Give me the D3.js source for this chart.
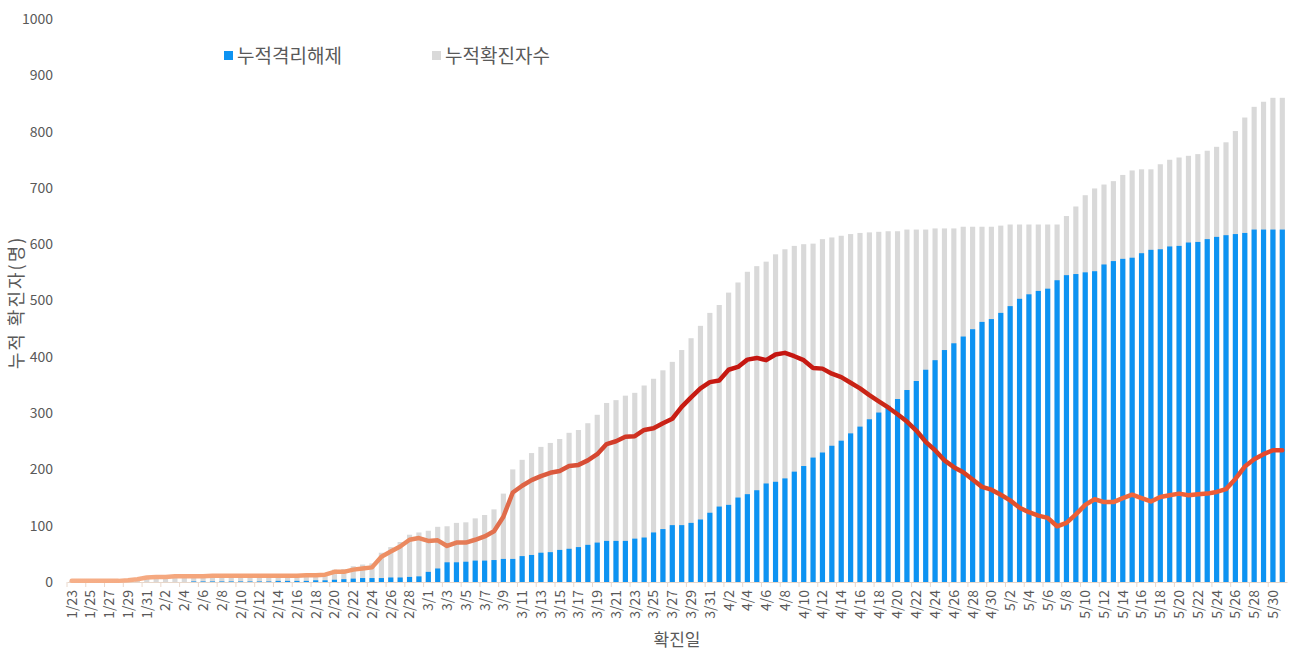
<!DOCTYPE html>
<html>
<head>
<meta charset="utf-8">
<script src="https://cdn.jsdelivr.net/npm/d3@7/dist/d3.min.js"></script>
<style>
  html, body { margin: 0; padding: 0; background: #ffffff; }
  svg { display: block; }
  text { font-family: "Noto Sans CJK KR", "Noto Sans", sans-serif; }
</style>
</head>
<body>
<svg id="chart" width="1293" height="652"></svg>
<script>
// ---- data ----
const startDate = "2020-01-23";
const dayCount = 130; // 1/23 .. 5/31

const confirmed = [
  2,2,2,2,2,2,3,5,8,
  9,9,10,10,11,11,12,12,12,12,
  12,12,12,13,13,13,14,15,16,22,
  23,28,31,33,52,62,71,84,88,
  91,98,99,105,106,113,119,129,157,200,
  217,229,240,247,254,265,270,282,297,318,
  323,331,336,349,361,376,391,412,433,455,478,
  492,514,532,551,561,569,582,591,597,600,
  601,609,612,615,618,620,621,622,623,623,
  626,626,626,628,628,628,631,631,631,631,
  633,635,635,635,635,635,635,650,667,687,
  699,706,712,723,731,733,733,742,750,754,
  757,760,766,773,781,801,825,844,853,860,860
];
const released = [
  0,0,0,0,0,0,0,0,0,
  0,0,0,0,1,1,1,1,1,1,
  1,1,1,2,2,2,2,3,3,4,
  5,6,7,7,7,8,8,9,10,
  18,24,35,35,36,38,38,39,41,41,
  46,48,52,53,57,59,62,66,70,73,
  73,73,77,79,88,94,101,101,105,111,123,
  134,137,150,156,163,175,178,184,196,206,
  221,230,242,251,264,276,289,301,313,325,
  341,357,377,394,412,424,436,449,462,467,
  478,490,503,511,517,521,536,545,547,550,
  552,564,570,574,576,584,590,591,596,597,
  603,604,609,613,616,618,620,626,626,626,626
];
const active = [
  2,2,2,2,2,2,3,5,8,
  9,9,10,10,10,10,11,11,11,11,
  11,11,11,11,11,11,12,12,13,18,
  18,22,24,26,45,54,63,75,78,
  73,74,64,70,70,75,81,90,116,159,
  171,181,188,194,197,206,208,216,227,245,
  250,258,259,270,273,282,290,311,328,344,355,
  358,377,382,395,398,394,404,407,401,394,
  380,379,370,364,354,344,332,321,310,298,
  285,269,249,234,216,204,195,182,169,164,
  155,145,132,124,118,114,99,105,120,137,
  147,142,142,149,155,149,143,151,154,157,
  154,156,157,160,165,183,205,218,227,234,234
];
const yTicks = [0,100,200,300,400,500,600,700,800,900,1000];
const seriesNames = ["누적격리해제", "누적확진자수"];
const yTitle = "누적 확진자(명)";
const xTitle = "확진일";

// build date labels
const parseD = d3.timeParse("%Y-%m-%d");
const d0 = parseD(startDate);
const dates = d3.range(dayCount).map(i => d3.timeDay.offset(d0, i));
const fmt = d => (d.getMonth() + 1) + "/" + d.getDate();
const categories = dates.map(fmt);
const rows = categories.map((c, i) => ({ c, conf: confirmed[i], rel: released[i], act: active[i] }));

// ---- layout ----
const svg = d3.select("#chart");
const plotL = 67, plotR = 1287, plotT = 19, plotB = 582;

const x = d3.scaleBand().domain(categories).range([plotL, plotR]).paddingInner(0.45).paddingOuter(0.225);
const y = d3.scaleLinear().domain([0, 1000]).range([plotB, plotT]);

const blue = "#0d93f2";
const gray = "#d9d9d9";
const txt = "#595959";

// bars: confirmed (gray) behind released (blue)
svg.append("g").selectAll("rect").data(rows).join("rect")
  .attr("x", d => x(d.c)).attr("width", x.bandwidth())
  .attr("y", d => y(d.conf)).attr("height", d => y(0) - y(d.conf))
  .attr("fill", gray);
svg.append("g").selectAll("rect").data(rows).join("rect")
  .attr("x", d => x(d.c)).attr("width", x.bandwidth())
  .attr("y", d => y(d.rel)).attr("height", d => y(0) - y(d.rel))
  .attr("fill", blue);

// x axis line & labels
const xAxis = d3.axisBottom(x)
  .tickValues(categories.filter((c, i) => i % 2 === 0))
  .tickSize(0).tickPadding(6);
const gx = svg.append("g").attr("transform", `translate(0,${plotB})`).call(xAxis);
gx.select(".domain").attr("stroke", "#e8d6c8").attr("stroke-width", 1);
gx.selectAll(".tick text")
  .attr("transform", "rotate(-90)")
  .attr("text-anchor", "end")
  .attr("dx", "-8px").attr("dy", "0.35em")
  .attr("x", 0).attr("y", 0)
  .attr("fill", txt).attr("font-size", "14px");
// small ticks between label groups
svg.append("g").selectAll("line").data(categories.filter((c, i) => i % 2 === 0))
  .join("line")
  .attr("x1", d => x(d) - (x.step() - x.bandwidth()) / 2)
  .attr("x2", d => x(d) - (x.step() - x.bandwidth()) / 2)
  .attr("y1", plotB).attr("y2", plotB + 5)
  .attr("stroke", "#ead8cc").attr("stroke-width", 1);

// y axis (labels only)
const yAxis = d3.axisLeft(y).tickValues(yTicks).tickFormat(d3.format("d")).tickSize(0).tickPadding(14);
const gy = svg.append("g").attr("transform", `translate(${plotL},0)`).call(yAxis);
gy.select(".domain").remove();
gy.selectAll(".tick text").attr("fill", txt).attr("font-size", "14px");

// line with gradient
const defs = svg.append("defs");
const grad = defs.append("linearGradient").attr("id", "lineGrad")
  .attr("gradientUnits", "userSpaceOnUse")
  .attr("x1", plotL).attr("x2", plotR).attr("y1", 0).attr("y2", 0);
[[0, "#f6b08a"], [0.22, "#f29a6c"], [0.33, "#e47a55"], [0.42, "#d84e36"],
 [0.5, "#c81c12"], [0.58, "#c41410"], [0.68, "#cc2a18"], [0.78, "#e4522c"],
 [0.86, "#f26a3e"], [0.94, "#ee5c36"], [1, "#e0402a"]]
  .forEach(([o, c]) => grad.append("stop").attr("offset", o).attr("stop-color", c));

const line = d3.line()
  .x(d => x(d.c) + x.bandwidth() / 2)
  .y(d => y(d.act))
  .curve(d3.curveLinear);
svg.append("path").datum(rows)
  .attr("d", line)
  .attr("fill", "none")
  .attr("stroke", "url(#lineGrad)")
  .attr("stroke-width", 4.5)
  .attr("stroke-linejoin", "round")
  .attr("stroke-linecap", "round");

// legend
const legend = svg.append("g");
const legendItems = [
  { name: seriesNames[0], color: blue, x: 224 },
  { name: seriesNames[1], color: gray, x: 432 }
];
legendItems.forEach(it => {
  legend.append("rect").attr("x", it.x).attr("y", 51).attr("width", 9).attr("height", 9).attr("fill", it.color);
  legend.append("text").attr("x", it.x + 13).attr("y", 63)
    .attr("font-size", "19px").attr("fill", txt).text(it.name);
});

// axis titles
svg.append("text")
  .attr("transform", `translate(23,${(plotT + plotB) / 2 + 2}) rotate(-90)`)
  .attr("text-anchor", "middle").attr("font-size", "18px").attr("letter-spacing", "2px")
  .attr("fill", txt)
  .text(yTitle);
svg.append("text")
  .attr("x", 677).attr("y", 646)
  .attr("text-anchor", "middle").attr("font-size", "17px").attr("fill", txt)
  .text(xTitle);
</script>
</body>
</html>
